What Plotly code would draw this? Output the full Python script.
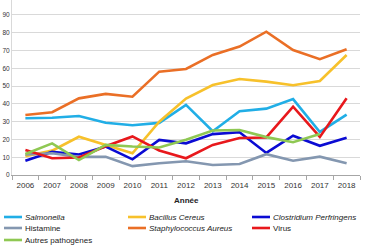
import plotly.graph_objects as go

years = ["2006", "2007", "2008", "2009", "2010", "2011", "2012",
         "2013", "2014", "2015", "2016", "2017", "2018"]

series_names = ["<i>Salmonella</i>", "<i>Bacillus Cereus</i>", "<i>Clostridium Perfringens</i>",
                "Histamine", "<i>Staphylococcus Aureus</i>", "Virus", "Autres pathogènes"]
series_colors = ["#21aee6", "#f7c12b", "#0b0bd3", "#8497b0", "#ea6f26", "#e8181c", "#8fc853"]

salmonella = [31.9, 32.2, 33.2, 29.4, 28.0, 29.3, 39.4, 24.6, 35.8, 37.3, 42.7, 24.2, 33.9]
bacillus = [10.5, 13.7, 21.5, 16.8, 12.2, 30.0, 43.0, 50.6, 54.0, 52.5, 50.5, 52.9, 67.5]
clostridium = [8.0, 13.1, 11.5, 16.0, 8.8, 19.7, 17.8, 23.0, 24.0, 12.4, 22.1, 16.4, 21.0]
histamine = [11.5, 12.2, 10.2, 10.3, 5.0, 6.6, 7.7, 5.6, 6.2, 11.7, 8.0, 10.3, 6.6]
staphylococcus = [33.7, 35.3, 43.1, 45.6, 44.0, 58.1, 59.6, 67.5, 72.2, 80.6, 70.3, 65.1, 70.7]
virus = [14.0, 9.4, 9.8, 16.2, 21.7, 13.8, 9.4, 16.9, 20.8, 21.1, 38.4, 21.4, 43.1]
autres = [11.8, 17.8, 8.4, 16.9, 16.0, 15.5, 19.8, 25.0, 25.3, 21.3, 18.4, 23.1, None]

all_series = [salmonella, bacillus, clostridium, histamine, staphylococcus, virus, autres]

W, H = 374, 249
ML, MR, MT, MB = 12, 14, 0, 74
PW, PH = W - ML - MR, H - MT - MB
FONT = "Liberation Sans"

fig = go.Figure()
for name, color, vals in zip(series_names, series_colors, all_series):
    fig.add_trace(go.Scatter(x=years, y=vals, mode="lines", name=name,
                             line=dict(color=color, width=2.6), showlegend=False,
                             connectgaps=False))

def px_x(px):
    return (px - ML) / PW

def px_y(py):
    return (H - MB - py) / PH

# manual legend (3 columns)
legend_cols = [4, 128, 252]
legend_rows = [217, 228, 240]
shapes = []
annotations = []
for i, (name, color) in enumerate(zip(series_names, series_colors)):
    r, c = divmod(i, 3)
    x0 = legend_cols[c]
    y0 = legend_rows[r]
    shapes.append(dict(type="line", xref="paper", yref="paper",
                       x0=px_x(x0), x1=px_x(x0 + 18), y0=px_y(y0), y1=px_y(y0),
                       line=dict(color=color, width=2.6)))
    annotations.append(dict(text=name, xref="paper", yref="paper",
                            x=px_x(x0 + 18.5), y=px_y(y0), xanchor="left", yanchor="middle",
                            showarrow=False, font=dict(family=FONT, size=8, color="#222222")))

annotations.append(dict(text="<b>Année</b>", xref="paper", yref="paper",
                        x=px_x(186), y=px_y(200), xanchor="center", yanchor="middle",
                        showarrow=False, font=dict(family=FONT, size=8, color="#222222")))

fig.update_layout(
    width=W, height=H,
    margin=dict(l=ML, r=MR, t=MT, b=MB, pad=0),
    paper_bgcolor="white", plot_bgcolor="white",
    font=dict(family=FONT, size=8, color="#333333"),
    shapes=shapes, annotations=annotations,
    showlegend=False,
    xaxis=dict(type="category", range=[-0.5, 12.5], showgrid=False,
               showline=True, linecolor="#a6a6a6", linewidth=1,
               ticks="outside", tickson="boundaries", ticklen=4, tickcolor="#a6a6a6",
               tickangle=0, ticklabelstandoff=2,
               tickfont=dict(family=FONT, size=8, color="#333333"), automargin=False),
    yaxis=dict(range=[0, 98.4], dtick=10, tick0=0, showgrid=True, gridcolor="#d9d9d9",
               gridwidth=1, showline=True, linecolor="#d9d9d9", linewidth=1,
               zeroline=False, ticks="", ticklabelstandoff=0,
               tickfont=dict(family=FONT, size=6.5, color="#333333"), automargin=False),
)

fig.write_html("out.html")
